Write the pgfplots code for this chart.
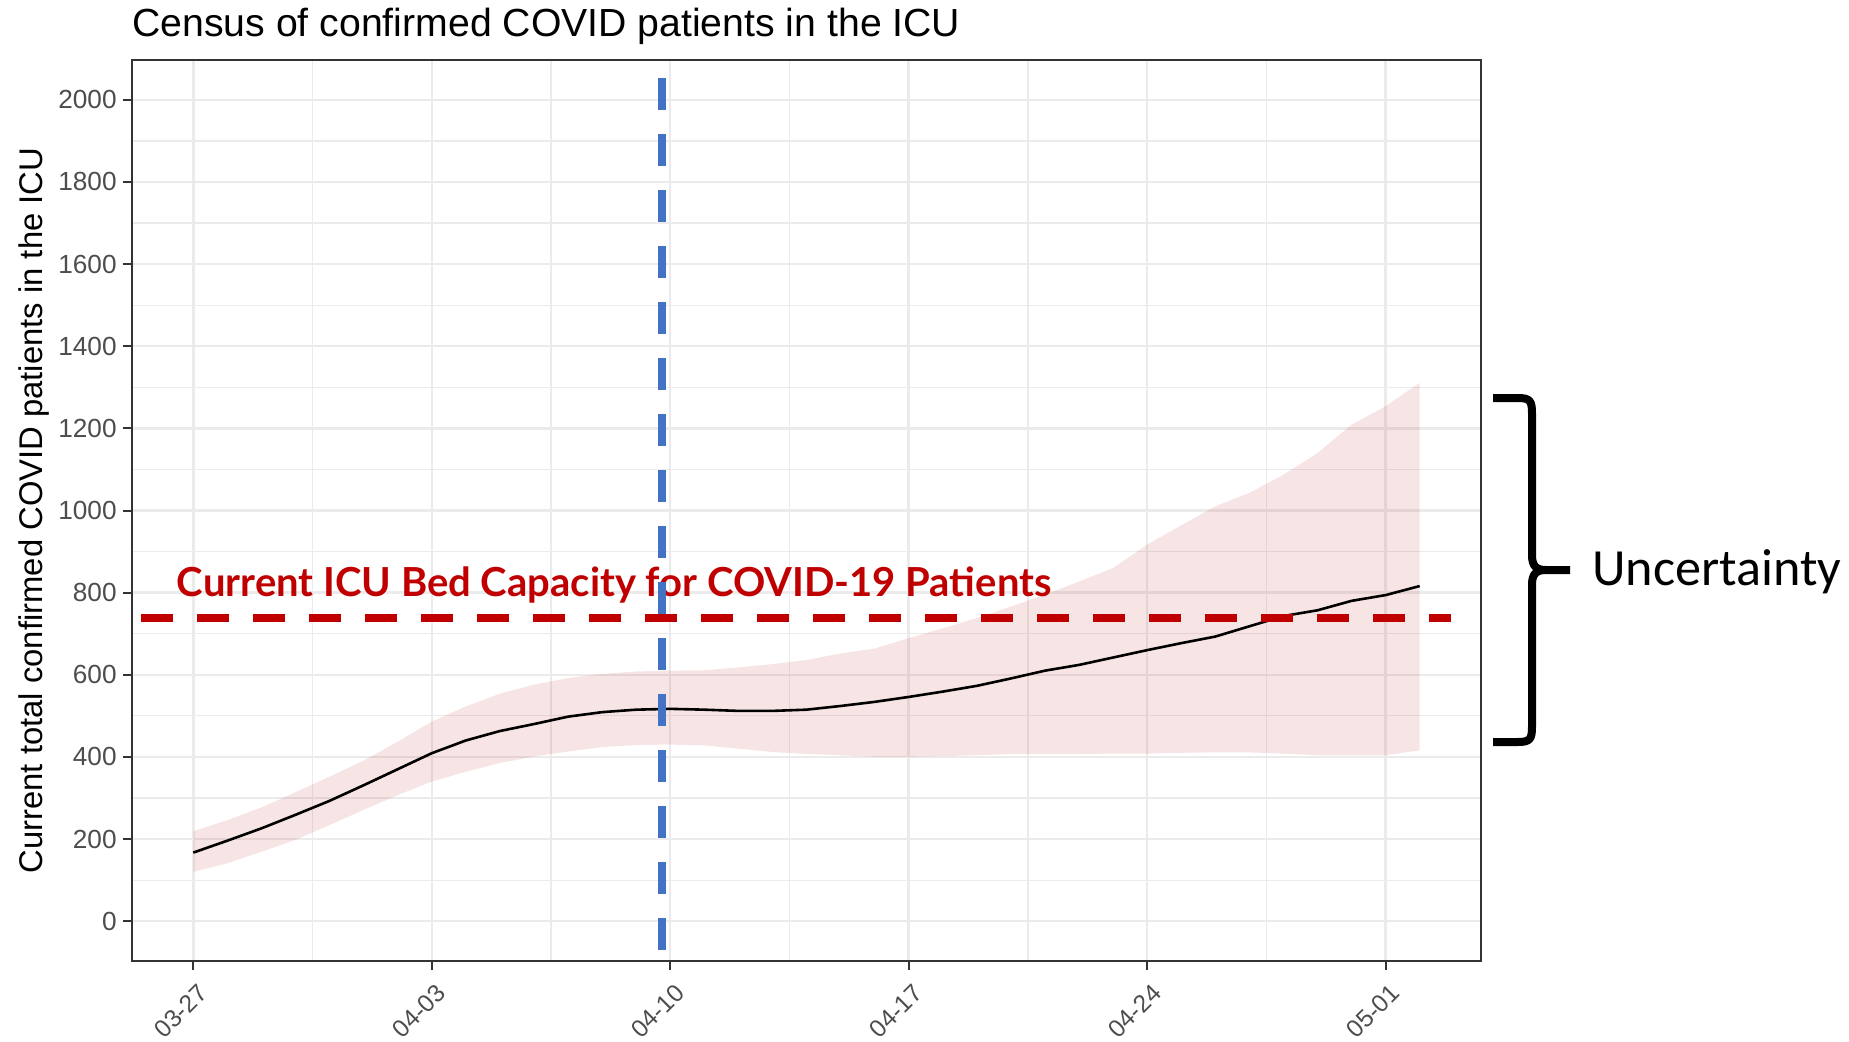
\documentclass[border=0pt]{standalone}
\usepackage{pgfplots}
\pgfplotsset{compat=1.18}
\usepgfplotslibrary{fillbetween}
\usepackage{pgfplotstable}
\usepackage{fontspec}
\setmainfont{Liberation Sans}
\newfontfamily\latofont{Lato}
\newfontfamily\carlitofont{Carlito}

\definecolor{capred}{RGB}{192,0,0}
\definecolor{vblue}{RGB}{68,114,196}
\definecolor{ribbonc}{RGB}{190,40,40}
\definecolor{gridc}{RGB}{235,235,235}
\definecolor{grey20}{RGB}{51,51,51}
\definecolor{grey30}{RGB}{77,77,77}

% days since 03-27; census of ICU patients (lower, median, upper)
\pgfplotstableread{
day lower mid upper
0  120 167 219
1  141 196 246
2  169 226 277
3  198 259 314
4  234 293 352
5  271 331 391
6  307 370 437
7  340 409 486
8  364 440 523
9  385 463 554
10 401 480 576
11 413 498 592
12 424 509 602
13 429 515 608
14 430 517 610
15 428 515 611
16 420 512 618
17 412 512 626
18 407 515 636
19 404 524 652
20 400 534 664
21 400 546 689
22 402 559 713
23 404 573 738
24 407 591 766
25 407 610 795
26 407 624 827
27 408 642 860
28 408 660 917
29 410 677 964
30 411 693 1010
31 411 718 1043
32 408 743 1087
33 404 757 1140
34 404 780 1209
35 404 794 1254
36 416 816 1311
}\icu

\begin{document}
\begin{tikzpicture}
\begin{axis}[
  at={(0pt,0pt)}, anchor=south west,
  scale only axis, width=674.5pt, height=450.5pt,
  xmin=-1.8, xmax=37.8, ymin=-97, ymax=2097,
  xtick={0,7,14,21,28,35},
  xticklabels={03-27,04-03,04-10,04-17,04-24,05-01},
  minor xtick={3.5,10.5,17.5,24.5,31.5},
  ytick={0,200,400,600,800,1000,1200,1400,1600,1800,2000},
  yticklabels={0,200,400,600,800,1000,1200,1400,1600,1800,2000},
  minor ytick={100,300,500,700,900,1100,1300,1500,1700,1900},
  grid=both,
  major grid style={color=gridc, line width=1.2pt},
  minor grid style={color=gridc, line width=0.6pt},
  axis line style={color=grey20, line width=1.1pt},
  tick align=outside, tick pos=left,
  major tick length=4.5pt, minor tick length=0pt,
  tick style={color=grey20, line width=1pt},
  yticklabel style={font=\fontsize{13.1}{15}\selectfont, text=grey30, inner sep=0pt,
    anchor=east, xshift=-3pt},
  xticklabel style={font=\fontsize{12.3}{14}\selectfont, text=grey30, inner sep=0pt,
    xshift=1.7pt, yshift=-6.1pt, rotate=45, anchor=north east},
]
\addplot[name path=up, draw=none] table[x=day, y=upper] {\icu};
\addplot[name path=lo, draw=none] table[x=day, y=lower] {\icu};
\addplot[fill=ribbonc, fill opacity=0.12, draw=none] fill between[of=up and lo];
\addplot[black, line width=1.3pt] table[x=day, y=mid] {\icu};
\addplot[capred, line width=4pt, dash pattern=on 16pt off 12pt] coordinates {(-1.53,739) (36.91,739)};
\node[anchor=base west, inner sep=0pt, text=capred,
  font=\latofont\bfseries\fontsize{20}{23}\selectfont, xshift=22.3pt, yshift=182.2pt]
  at (rel axis cs:0,0) {Current ICU Bed Capacity for COVID-19 Patients};
\addplot[vblue, line width=4pt, dash pattern=on 16pt off 12pt] coordinates {(13.76,2053) (13.76,-70)};
\end{axis}

% title and y label
\node[anchor=base west, inner sep=0pt, font=\fontsize{19.6}{23}\selectfont]
  at (0pt,462pt) {Census of confirmed COVID patients in the ICU};
\node[rotate=90, anchor=base, inner sep=0pt, font=\fontsize{16.4}{19}\selectfont]
  at (-44.6pt,225.25pt) {Current total confirmed COVID patients in the ICU};

% brace
\draw[line width=4pt, line join=round] (680.5pt,281.5pt) -- (693pt,281.5pt)
  .. controls (699pt,281.5pt) and (700pt,280pt) .. (700pt,274pt) -- (700pt,203pt)
  .. controls (700pt,197.5pt) and (702pt,195.5pt) .. (707pt,195.5pt) -- (719pt,195.5pt);
\draw[line width=4pt, line join=round] (680.5pt,109.5pt) -- (693pt,109.5pt)
  .. controls (699pt,109.5pt) and (700pt,111pt) .. (700pt,117pt) -- (700pt,188pt)
  .. controls (700pt,193.5pt) and (702pt,195.5pt) .. (707pt,195.5pt);
\node[anchor=base west, inner sep=0pt, font=\carlitofont\fontsize{26.1}{30}\selectfont]
  at (730pt,188pt) {Uncertainty};

\pgfresetboundingbox
\useasboundingbox (-66pt,-40pt) rectangle (858.5pt,480.5pt);
\end{tikzpicture}
\end{document}
